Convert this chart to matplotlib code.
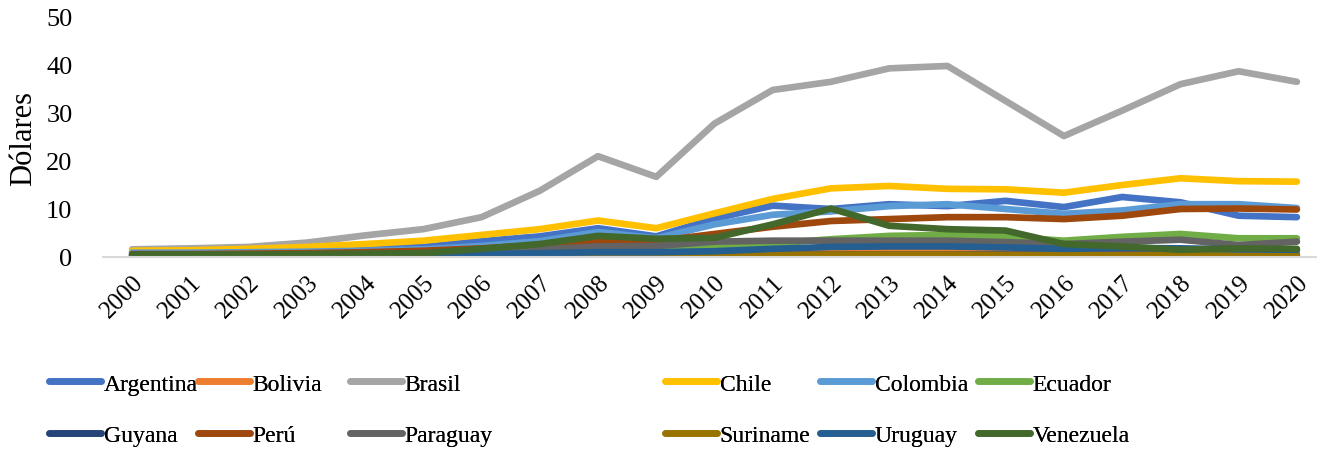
import matplotlib
matplotlib.use("Agg")
import matplotlib.pyplot as plt
from matplotlib.lines import Line2D

years = [str(y) for y in range(2000, 2021)]

argentina = [1.0, 1.1, 1.2, 1.3, 1.6, 2.1, 3.3, 4.3, 6.0, 4.3, 8.0, 10.7, 10.0, 11.0, 10.6, 11.7, 10.4, 12.5, 11.4, 8.6, 8.3]
bolivia   = [0.2, 0.2, 0.2, 0.2, 0.3, 0.3, 0.4, 0.5, 0.7, 0.7, 0.8, 1.0, 1.1, 1.2, 1.3, 1.2, 1.1, 1.1, 1.2, 1.2, 1.2]
brasil    = [1.6, 1.8, 2.1, 3.0, 4.5, 5.8, 8.3, 13.8, 21.0, 16.7, 27.8, 34.8, 36.5, 39.3, 39.8, 32.5, 25.2, 30.5, 36.0, 38.7, 36.5]
chile     = [1.3, 1.4, 1.7, 2.1, 2.7, 3.4, 4.6, 5.8, 7.6, 6.0, 9.1, 12.1, 14.3, 14.8, 14.2, 14.1, 13.4, 15.0, 16.4, 15.8, 15.7]
colombia  = [0.9, 0.9, 1.0, 1.1, 1.3, 1.6, 2.3, 3.3, 5.2, 3.9, 6.8, 8.8, 9.5, 10.6, 11.0, 10.0, 9.0, 9.7, 11.0, 11.0, 10.2]
ecuador   = [0.5, 0.5, 0.6, 0.7, 0.8, 1.0, 1.3, 1.7, 2.1, 2.0, 2.3, 2.8, 3.7, 4.4, 4.6, 4.2, 3.4, 4.2, 4.8, 3.9, 3.9]
guyana    = [0.2, 0.2, 0.2, 0.2, 0.2, 0.2, 0.3, 0.3, 0.4, 0.4, 0.4, 0.5, 0.5, 0.5, 0.5, 0.5, 0.5, 0.5, 0.5, 0.5, 0.5]
peru      = [0.6, 0.6, 0.7, 0.8, 1.0, 1.3, 1.8, 2.5, 3.4, 3.3, 4.8, 6.3, 7.5, 7.9, 8.3, 8.3, 7.9, 8.6, 10.0, 10.1, 9.9]
paraguay  = [0.4, 0.4, 0.4, 0.5, 0.6, 0.8, 1.1, 1.6, 2.2, 2.3, 3.2, 3.4, 3.4, 3.4, 3.4, 3.1, 2.7, 3.2, 3.6, 2.5, 3.2]
suriname  = [0.1, 0.1, 0.1, 0.1, 0.1, 0.2, 0.2, 0.2, 0.3, 0.3, 0.4, 0.5, 0.5, 0.5, 0.5, 0.4, 0.4, 0.4, 0.4, 0.4, 0.4]
uruguay   = [0.3, 0.3, 0.3, 0.3, 0.4, 0.5, 0.6, 0.8, 1.0, 1.0, 1.2, 1.7, 2.1, 2.2, 2.2, 2.0, 1.7, 1.9, 1.8, 1.6, 1.5]
venezuela = [0.5, 0.5, 0.5, 0.6, 0.7, 0.8, 1.7, 2.7, 4.4, 3.8, 4.0, 6.8, 10.1, 6.5, 5.8, 5.5, 2.7, 2.2, 1.5, 1.8, 1.7]

names = ["Argentina", "Bolivia", "Brasil", "Chile", "Colombia", "Ecuador",
         "Guyana", "Perú", "Paraguay", "Suriname", "Uruguay", "Venezuela"]
series = [argentina, bolivia, brasil, chile, colombia, ecuador,
          guyana, peru, paraguay, suriname, uruguay, venezuela]
colors = ["#4472C4", "#ED7D31", "#A5A5A5", "#FFC000", "#5B9BD5", "#70AD47",
          "#264478", "#9E480E", "#636363", "#997300", "#255E91", "#43682B"]

plt.rcParams['font.family'] = ['Liberation Serif', 'DejaVu Serif']

fig = plt.figure(figsize=(13.17, 4.56), dpi=100)
ax = fig.add_axes([103 / 1317, 1 - 258 / 456, 1223 / 1317, 240 / 456])

x = list(range(len(years)))
lw = 4.8
for name, vals, c in zip(names, series, colors):
    ax.plot(x, vals, color=c, lw=lw, solid_capstyle='round', solid_joinstyle='round', label=name)

ax.set_xlim(-0.5, len(years) - 0.5)
ax.set_ylim(0, 50)
ax.set_yticks(range(0, 51, 10))
ax.set_xticks(x)
ax.set_xticklabels(years, rotation=45, ha='right', va='top', rotation_mode='anchor')
ax.tick_params(axis='x', labelsize=18, length=0, pad=10)
ax.tick_params(axis='y', labelsize=19, length=0, pad=22)
ax.set_ylabel("Dólares", fontsize=22, labelpad=6)
for s in ['top', 'right', 'left']:
    ax.spines[s].set_visible(False)
ax.spines['bottom'].set_color('#D9D9D9')
ax.spines['bottom'].set_linewidth(1.5)

# legend: 6 columns, 2 rows, placed per column
col_x = [49, 198, 350, 665, 820, 978]
for i, cx in enumerate(col_x):
    handles = [Line2D([], [], color=colors[i], lw=lw, solid_capstyle='round'),
               Line2D([], [], color=colors[i + 6], lw=lw, solid_capstyle='round')]
    labels = [names[i], names[i + 6]]
    leg = fig.legend(handles, labels, loc='upper left',
                     bbox_to_anchor=(cx / 1317, 1 - 374 / 456),
                     frameon=False, fontsize=17, handlelength=2.2,
                     handletextpad=0.12, labelspacing=1.28,
                     borderaxespad=0, borderpad=0)
    fig.add_artist(leg)

fig.savefig("out.png", dpi=100)
